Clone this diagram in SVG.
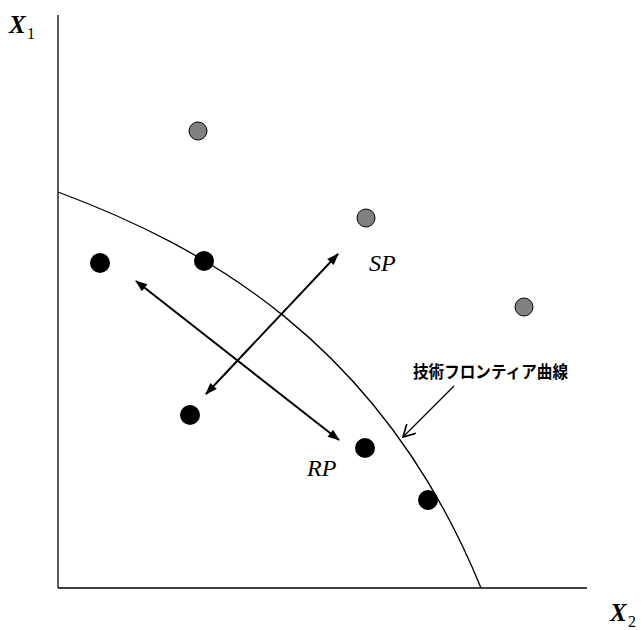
<svg xmlns="http://www.w3.org/2000/svg" width="641" height="630" viewBox="0 0 641 630">
<style>
.ax{stroke:#000;stroke-width:1.3;fill:none}
.cv{stroke:#000;stroke-width:1.3;fill:none}
.ar{stroke:#000;stroke-width:2;fill:none}
.gray{fill:#808080;stroke:#000;stroke-width:1}
.blk{fill:#000}
.lab{font-family:"Liberation Serif",serif;font-style:italic;font-size:24px}
.axl{font-family:"Liberation Serif",serif;font-style:italic;font-weight:bold;font-size:25px}
.sub{font-family:"Liberation Serif",serif;font-size:16px}
.jp{font-family:"Noto Sans CJK JP",sans-serif;font-weight:bold;font-size:17px}
</style>
<defs>
<marker id="ah" viewBox="0 0 12 10" refX="11" refY="5" markerWidth="13" markerHeight="10" orient="auto-start-reverse" markerUnits="userSpaceOnUse">
<path d="M0,0.5 L12,5 L0,9.5 z" fill="#000"/>
</marker>
<marker id="oh" viewBox="0 0 10 10" refX="9" refY="5" markerWidth="14" markerHeight="14" orient="auto" markerUnits="userSpaceOnUse">
<path d="M0,0 L9,5 L0,10" fill="none" stroke="#000" stroke-width="1.2"/>
</marker>
</defs>
<g id="axes">
<line class="ax" x1="58" y1="15" x2="58" y2="588"/>
<line class="ax" x1="58" y1="588" x2="587" y2="588"/>
<text class="axl" x="9" y="33">X</text><text class="sub" x="27" y="39">1</text>
<text class="axl" x="610" y="621">X</text><text class="sub" x="628" y="627">2</text>
</g>
<g id="frontier">
<path class="cv" d="M58,192 C200,245 380,340 481,588"/>
</g>
<g id="points">
<circle class="gray" cx="198" cy="131" r="9"/>
<circle class="gray" cx="366" cy="218" r="9"/>
<circle class="gray" cx="524" cy="307" r="9"/>
<circle class="blk" cx="100" cy="263" r="10"/>
<circle class="blk" cx="204" cy="261" r="10"/>
<circle class="blk" cx="190" cy="415" r="10"/>
<circle class="blk" cx="365" cy="448" r="10"/>
<circle class="blk" cx="428" cy="500" r="10"/>
</g>
<g id="connectors">
<line class="ar" x1="206" y1="394" x2="338" y2="254" marker-start="url(#ah)" marker-end="url(#ah)"/>
<line class="ar" x1="136" y1="281" x2="339" y2="440" marker-start="url(#ah)" marker-end="url(#ah)"/>
<line class="cv" x1="454" y1="386" x2="403" y2="437" marker-end="url(#oh)"/>
</g>
<g id="labels">
<text class="lab" x="369" y="271">SP</text>
<text class="lab" x="307" y="476">RP</text>
<text class="jp" x="413" y="378" textLength="155" lengthAdjust="spacingAndGlyphs">技術フロンティア曲線</text>
</g>
</svg>
